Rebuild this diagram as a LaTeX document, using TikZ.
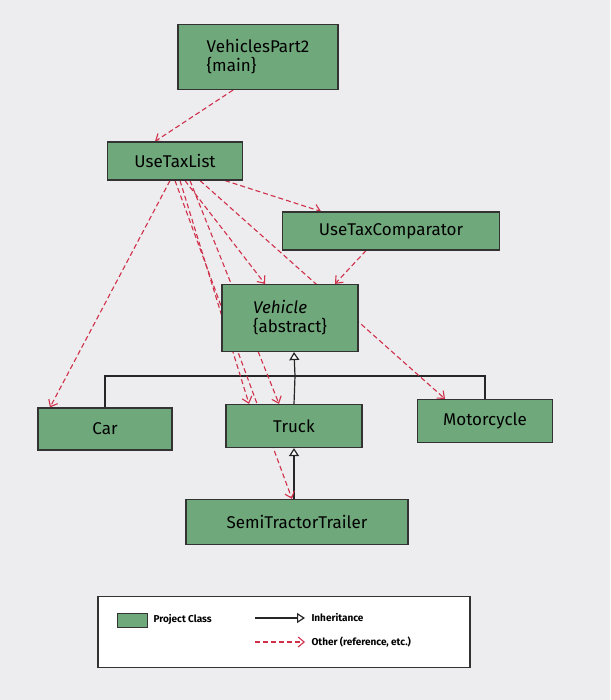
\documentclass[tikz,border=0pt]{standalone}
\usepackage{fontspec}
\setmainfont{Fira Sans}
\usetikzlibrary{arrows.meta,backgrounds}
\definecolor{cls}{HTML}{6FA87A}
\definecolor{dep}{HTML}{D0304A}
\definecolor{bg}{HTML}{EDEDEF}
\begin{document}
\begin{tikzpicture}[x=1pt,y=-1pt,
  cls/.style={draw=black!80,line width=1.2pt,fill=cls,minimum height=38pt,font=\fontsize{17}{19}\selectfont,align=left,inner sep=3pt},
  dep/.style={draw=dep,dash pattern=on 5pt off 3pt,line width=1.1pt,-{Straight Barb[length=6pt,width=10pt]}},
  inh/.style={draw=black!85,line width=1.2pt},
  inhtip/.style={draw=black!85,line width=1.2pt,-{Triangle[open,length=8pt,width=10pt,fill=white]}}]
\node[cls,minimum width=160pt,minimum height=65pt] (main) at (258,57) {VehiclesPart2\\\{main\}};
\node[cls,minimum width=135pt] (utl) at (175,161) {UseTaxList};
\node[cls,minimum width=217pt] (utc) at (391,231) {UseTaxComparator};
\node[cls,minimum width=136pt,minimum height=67pt] (veh) at (290,318) {\textit{Vehicle}\\\{abstract\}};
\node[cls,minimum width=134pt,minimum height=42pt] (car) at (105,429) {Car};
\node[cls,minimum width=136pt,minimum height=43pt] (truck) at (294,426) {Truck};
\node[cls,minimum width=135pt,minimum height=43pt] (moto) at (485,421) {Motorcycle};
\node[cls,minimum width=222pt,minimum height=45pt] (semi) at (297,522) {SemiTractorTrailer};
\begin{scope}[on background layer]
\fill[bg] (0,0) rectangle (610,700);
% inheritance
\coordinate (j) at (295,376);
\draw[inh] (car.north) |- (j) -| (moto.north);
\draw[inhtip] (truck.north) -- (j) -- (truck.north |- veh.south);
\draw[inhtip] (semi.north -| truck.south) -- (truck.south);
% dependencies
\draw[dep] (main.south) ++(-25,0) -- ([xshift=-20pt]utl.north);
\draw[dep] ([xshift=50pt]utl.south) -- ([xshift=-70pt]utc.north);
\draw[dep] ([xshift=10pt]utl.south) -- ([xshift=-25pt]veh.north);
\draw[dep] ([xshift=-5pt]utl.south) -- ([xshift=-55pt]car.north);
\draw[dep] ([xshift=15pt]utl.south) -- ([xshift=-15pt]truck.north);
\draw[dep] ([xshift=5pt]utl.south) -- ([xshift=-45pt]truck.north);
\draw[dep] ([xshift=0pt]utl.south) -- ([xshift=-5pt]semi.north);
\draw[dep] ([xshift=25pt]utl.south) -- ([xshift=-40pt]moto.north);
\draw[dep] ([xshift=-25pt]utc.south) -- ([xshift=45pt]veh.north);
\end{scope}
% legend
\node[draw=black!80,line width=1.2pt,fill=white,minimum width=372pt,minimum height=71pt] (leg) at (284,632) {};
\node[draw=black!80,line width=1pt,fill=cls,minimum width=30pt,minimum height=14pt,inner sep=0] (lsw) at (132,620) {};
\node[anchor=west,font=\fontsize{10}{12}\selectfont\bfseries] (lpc) at (150,620) {Project Class};
\coordinate (la1) at (255,618);\coordinate (la2) at (305,618);
\draw[inhtip] (la1) -- (la2);
\node[anchor=west,font=\fontsize{10}{12}\selectfont\bfseries] (lih) at (308,618) {Inheritance};
\coordinate (lb1) at (255,642);\coordinate (lb2) at (305,642);
\draw[dep] (lb1) -- (lb2);
\node[anchor=west,font=\fontsize{10}{12}\selectfont\bfseries] (lot) at (308,642) {Other (reference, etc.)};
\end{tikzpicture}
\end{document}
